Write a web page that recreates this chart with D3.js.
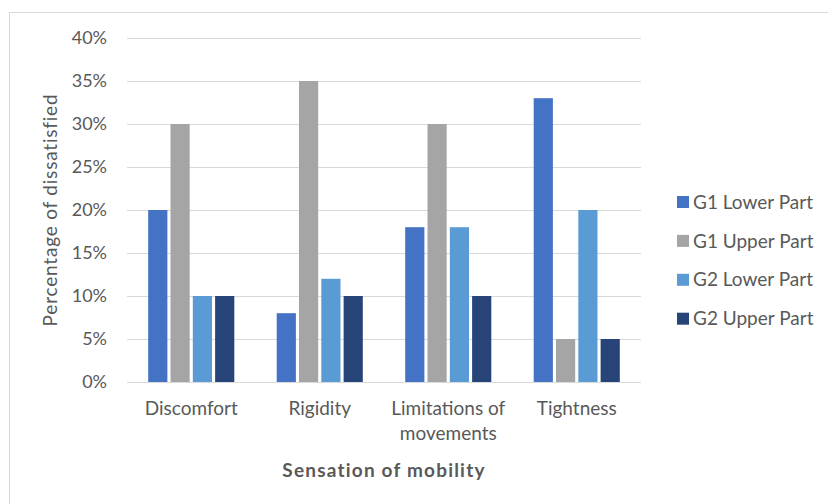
<!DOCTYPE html>
<html>
<head>
<meta charset="utf-8">
<script src="https://cdn.jsdelivr.net/npm/d3@7"></script>
<style>
  html, body { margin: 0; padding: 0; background: #fff; }
  svg { display: block; }
  text { font-family: Lato, "Open Sans", sans-serif; fill: #595959; }
</style>
</head>
<body>
<svg id="chart" width="828" height="504"></svg>
<script>
// Categories along the x axis (label lines)
const categories = ["Discomfort", "Rigidity", "Limitations of movements", "Tightness"];
const categoryLines = [["Discomfort"], ["Rigidity"], ["Limitations of", "movements"], ["Tightness"]];

// Series names
const seriesNames = ["G1 Lower Part", "G1 Upper Part", "G2 Lower Part", "G2 Upper Part"];

// Percentage of dissatisfied, one array per series (in category order)
const g1Lower = [20, 8, 18, 33];
const g1Upper = [30, 35, 30, 5];
const g2Lower = [10, 12, 18, 20];
const g2Upper = [10, 10, 10, 5];

// Y axis ticks
const yTicks = [0, 5, 10, 15, 20, 25, 30, 35, 40];

const seriesValues = [g1Lower, g1Upper, g2Lower, g2Upper];
const colors = ["#4472C4", "#A5A5A5", "#5B9BD5", "#264478"];

const svg = d3.select("#chart");

// outer chart frame
svg.append("rect")
  .attr("x", 9.5).attr("y", 12.5)
  .attr("width", 830).attr("height", 500)
  .attr("fill", "#fff").attr("stroke", "#d9d9d9").attr("stroke-width", 1);

const plot = { left: 127, right: 641, top: 38, bottom: 382 };

const y = d3.scaleLinear().domain([0, 40]).range([plot.bottom, plot.top]);

const x0 = d3.scaleBand()
  .domain(categories)
  .range([plot.left, plot.right])
  .paddingInner(0.33)
  .paddingOuter(0.165);

const x1 = d3.scaleBand()
  .domain(seriesNames)
  .range([0, x0.bandwidth()])
  .paddingInner(0.14);

// gridlines and percentage labels
const yAxis = d3.axisLeft(y)
  .tickValues(yTicks)
  .tickSize(-(plot.right - plot.left))
  .tickPadding(20)
  .tickFormat(d => d + "%");

const gy = svg.append("g")
  .attr("transform", `translate(${plot.left},0)`)
  .call(yAxis);
gy.select(".domain").remove();
gy.selectAll(".tick line").attr("stroke", "#d9d9d9").attr("stroke-width", 1);
gy.selectAll(".tick text")
  .attr("font-size", 18)
  .attr("fill", "#595959")
  .style("font-family", "Lato, 'Open Sans', sans-serif");

// bars
const groups = svg.append("g").selectAll("g")
  .data(categories)
  .join("g")
  .attr("transform", d => `translate(${x0(d)},0)`);

groups.selectAll("rect")
  .data((c, ci) => seriesNames.map((s, si) => ({ s, v: seriesValues[si][ci], i: si })))
  .join("rect")
  .attr("x", d => x1(d.s))
  .attr("width", x1.bandwidth())
  .attr("y", d => y(d.v))
  .attr("height", d => y(0) - y(d.v))
  .attr("fill", d => colors[d.i]);

// baseline
svg.append("line")
  .attr("x1", plot.left).attr("x2", plot.right)
  .attr("y1", y(0) + 0.5).attr("y2", y(0) + 0.5)
  .attr("stroke", "#d9d9d9").attr("stroke-width", 1);

// category labels
const xl = svg.append("g");
categories.forEach((c, ci) => {
  const cx = x0(c) + x0.bandwidth() / 2;
  const t = xl.append("text")
    .attr("text-anchor", "middle")
    .attr("font-size", 19)
    .attr("x", cx)
    .attr("y", 415);
  categoryLines[ci].forEach((line, li) => {
    t.append("tspan").attr("x", cx).attr("dy", li === 0 ? 0 : 24.5).text(line);
  });
});

// axis titles
svg.append("text")
  .attr("text-anchor", "middle")
  .attr("font-size", 19)
  .attr("font-weight", "bold")
  .attr("letter-spacing", 1.2)
  .attr("x", (plot.left + plot.right) / 2)
  .attr("y", 477)
  .text("Sensation of mobility");

svg.append("text")
  .attr("text-anchor", "middle")
  .attr("font-size", 19)
  .attr("letter-spacing", 0.8)
  .attr("transform", `translate(57,${(plot.top + plot.bottom) / 2}) rotate(-90)`)
  .text("Percentage of dissatisfied");

// legend
const legend = svg.append("g");
seriesNames.forEach((s, i) => {
  const cy = 202 + i * 38.9;
  legend.append("rect")
    .attr("x", 677).attr("y", cy - 6)
    .attr("width", 12).attr("height", 12)
    .attr("fill", colors[i]);
  legend.append("text")
    .attr("x", 693).attr("y", cy)
    .attr("dy", "0.35em")
    .attr("font-size", 19)
    .text(s);
});
</script>
</body>
</html>
